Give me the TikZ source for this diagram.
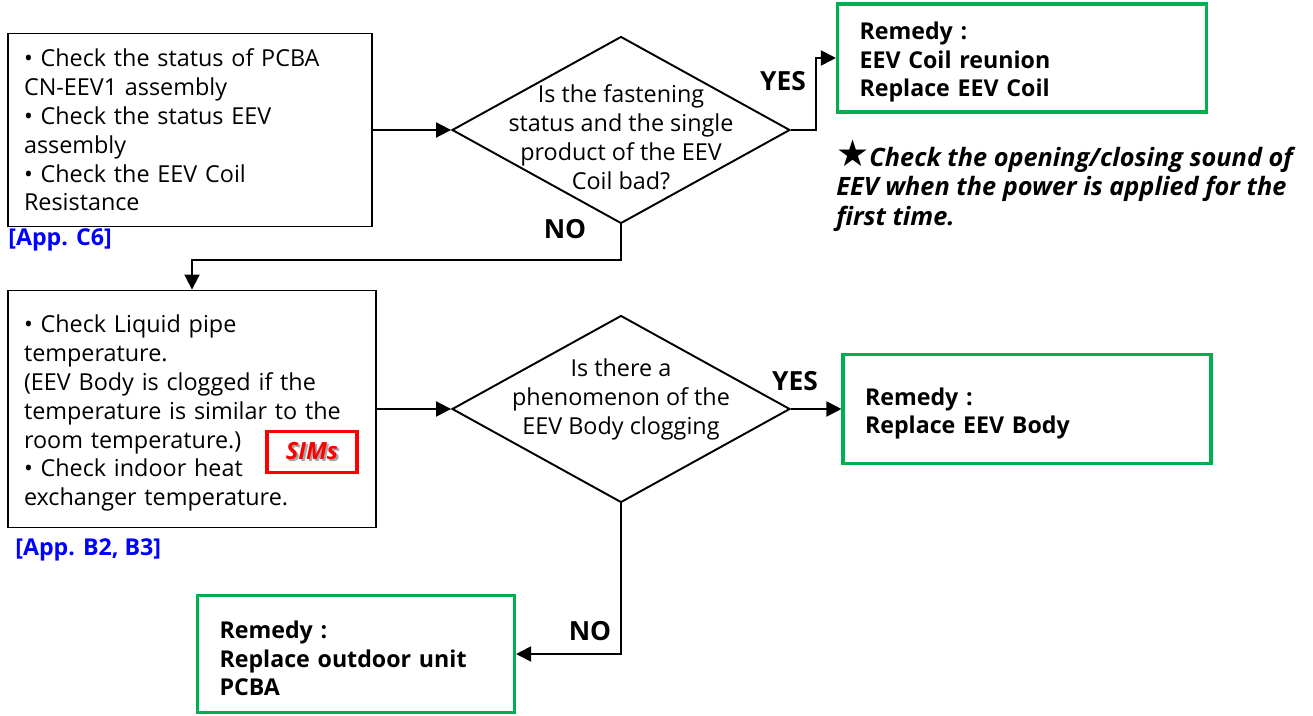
\documentclass[tikz,border=0pt]{standalone}
\usepackage{fontspec}
\setmainfont{Open Sans}
\newfontfamily\starfont{DejaVu Sans}
\usetikzlibrary{shapes.geometric,arrows.meta}
\definecolor{remedygreen}{RGB}{0,176,80}
\definecolor{refblue}{RGB}{0,0,255}
\definecolor{simsred}{RGB}{255,0,0}
\newcommand{\shadowed}[1]{{\color{black!35}\rlap{\hspace{1.2pt}\raisebox{-1.2pt}{#1}}}#1}
\newcommand{\topstrut}{\rule{0pt}{15pt}}
\tikzset{
	box/.style={draw, line width=1.1pt, align=left, inner xsep=0.32cm, inner ysep=0pt,
		font=\fontsize{13.3}{16.4}\selectfont},
	decision/.style={draw, diamond, line width=1.1pt, inner sep=0pt,
		minimum width=6.76cm, minimum height=3.74cm},
	qtext/.style={align=center, font=\fontsize{13.3}{16.6}\selectfont},
	remedy/.style={draw=remedygreen, line width=1.8pt, align=left, inner xsep=0.44cm, inner ysep=0pt,
		font=\fontsize{13.2}{16.2}\selectfont\bfseries},
	flow/.style={line width=1.1pt, -{Triangle[length=0.3cm,width=0.3cm]}},
	answer/.style={font=\fontsize{15}{16}\selectfont\bfseries},
	appref/.style={anchor=west, inner sep=0pt, text=refblue, font=\fontsize{13.2}{16}\selectfont\bfseries},
}
\begin{document}
\begin{tikzpicture}[x=0.02cm, y=-0.02cm]
	\useasboundingbox (0,0) rectangle (1313,716);

	\node[box, minimum width=7.28cm, minimum height=3.86cm, text width=6.64cm] (b1) at (190,130)
		{• Check the status of PCBA\\CN-EEV1 assembly\\• Check the status EEV\\assembly\\• Check the EEV Coil\\Resistance};
	\node[appref] (c6) at (8,240) {[App. C6]};

	\node[decision, label={[qtext, yshift=-4pt]center:{Is the fastening\\status and the single\\product of the EEV\\Coil bad?}}] (q1) at (621,130) {};

	\node[remedy, minimum width=7.38cm, minimum height=2.16cm, text width=6.5cm] (r1) at (1022,58)
		{\topstrut Remedy :\\EEV Coil reunion\\Replace EEV Coil};

	\node[anchor=north west, align=left, inner sep=0pt, font=\fontsize{14.4}{17}\selectfont\bfseries\itshape] (note) at (836,139)
		{{\starfont\fontsize{21}{17}\selectfont\mdseries\upshape ★}Check the opening/closing sound of\\EEV when the power is applied for the\\first time.};

	\node[box, minimum width=7.36cm, minimum height=4.74cm, text width=6.72cm] (b2) at (192,409)
		{\topstrut• Check Liquid pipe\\temperature.\\(EEV Body is clogged if the\\temperature is similar to the\\room temperature.)\\• Check indoor heat\\exchanger temperature.};
	\node[draw=simsred, line width=1.8pt, minimum width=1.8cm, minimum height=0.82cm, text=simsred,
		font=\fontsize{13.5}{15}\selectfont\bfseries\itshape] (sims) at (312,452) {\shadowed{SIMs}};
	\node[appref] (b23) at (15,550) {[App. B2, B3]};

	\node[decision, label={[qtext, yshift=5.5pt]center:{Is there a\\phenomenon of the\\EEV Body clogging}}] (q2) at (621,409) {};

	\node[remedy, minimum width=7.36cm, minimum height=2.18cm, text width=6.48cm] (r2) at (1027,409)
		{\topstrut Remedy :\\Replace EEV Body};

	\node[remedy, minimum width=6.26cm, minimum height=2.34cm, text width=5.46cm] (r3) at (356,654)
		{\topstrut Remedy :\\Replace outdoor unit\\PCBA};

	\draw[flow] (b1.east) -- (q1.west);
	\draw[flow] (q1.east) -- ++(25,0) |- (r1.west);
	\draw[flow] (q1.south) -- ++(0,36) -| (b2.north);
	\draw[flow] (b2.east) -- (q2.west);
	\draw[flow] (q2.east) -- (r2.west);
	\draw[flow] (q2.south) |- (r3.east);

	\node[answer] (y1) at (783,81) {YES};
	\node[answer] (n1) at (565,229) {NO};
	\node[answer] (y2) at (795,381) {YES};
	\node[answer] (n2) at (590,631) {NO};
\end{tikzpicture}
\end{document}
